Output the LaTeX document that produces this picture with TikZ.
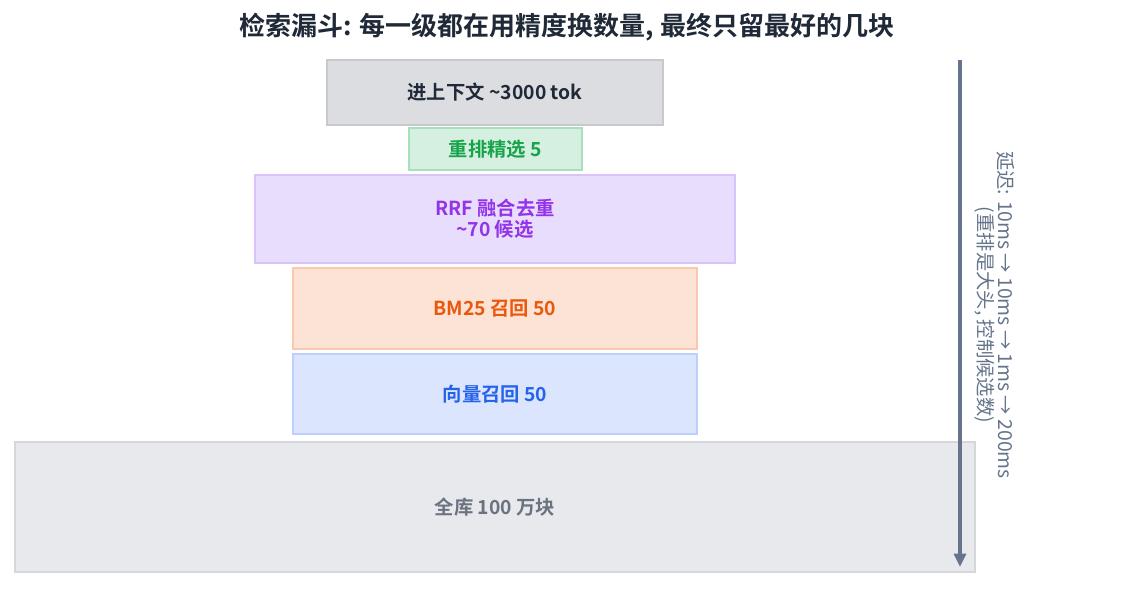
\documentclass[tikz,border=0pt]{standalone}
\usepackage{fontspec}
\setmainfont{Noto Sans CJK SC}
\newfontfamily\cjkb{Noto Sans CJK SC Bold}
\usetikzlibrary{arrows.meta}
\definecolor{tgray}{HTML}{1F2937}
\definecolor{slate}{HTML}{64748B}
\definecolor{cD}{HTML}{C8C9CD}\definecolor{cF}{HTML}{DCDDE1}
\definecolor{gD}{HTML}{A8E0BC}\definecolor{gF}{HTML}{D5F0E0}\definecolor{gT}{HTML}{16A34A}
\definecolor{pD}{HTML}{D8C4FB}\definecolor{pF}{HTML}{E9DDFD}\definecolor{pT}{HTML}{9333EA}
\definecolor{oD}{HTML}{FAC8AD}\definecolor{oF}{HTML}{FDE3D6}\definecolor{oT}{HTML}{EA580C}
\definecolor{bD}{HTML}{BCD0FB}\definecolor{bF}{HTML}{DBE5FD}\definecolor{bT}{HTML}{2563EB}
\definecolor{aD}{HTML}{D5D7DC}\definecolor{aF}{HTML}{E8E9EC}\definecolor{aT}{HTML}{6B7280}
\begin{document}
\begin{tikzpicture}[x=0.75pt,y=-0.75pt,
  box/.style={draw=#1, line width=1.5pt},
  lbl/.style={font=\cjkb\fontsize{14.5}{17}\selectfont, align=center}]
\useasboundingbox (0,0) rectangle (1134,595);
\node[font=\cjkb\fontsize{19.5}{23}\selectfont, text=tgray] (title) at (567,27) {检索漏斗: 每一级都在用精度换数量, 最终只留最好的几块};
\path[box=cD, fill=cF] (327,60) rectangle (663,125) node[midway,lbl,text=tgray] (ctx) {进上下文 \textasciitilde3000 tok};
\path[box=gD, fill=gF] (409,128) rectangle (582,170) node[midway,lbl,text=gT] (rr) {重排精选 5};
\path[box=pD, fill=pF] (255,175) rectangle (735,263) node[midway,lbl,text=pT] (rrf) {RRF 融合去重\\[-1pt]\textasciitilde70 候选};
\path[box=oD, fill=oF] (293,268) rectangle (697,349) node[midway,lbl,text=oT] (bm) {BM25 召回 50};
\path[box=bD, fill=bF] (293,354) rectangle (697,434) node[midway,lbl,text=bT] (vec) {向量召回 50};
\path[box=aD, fill=aF] (15,442) rectangle (975,572) node[midway,lbl,text=aT] (all) {全库 100 万块};
\coordinate (a1) at (960,60);
\coordinate (a2) at (960,567);
\draw[slate, line width=2.4pt, -{Triangle[length=10pt,width=9pt]}] (a1) -- (a2);
\node[rotate=-90, text=slate, font=\fontsize{14.5}{17}\selectfont, align=center] (lat) at (995,315) {延迟: 10ms → 10ms → 1ms → 200ms\\[-2pt](重排是大头, 控制候选数)};
\end{tikzpicture}
\end{document}
